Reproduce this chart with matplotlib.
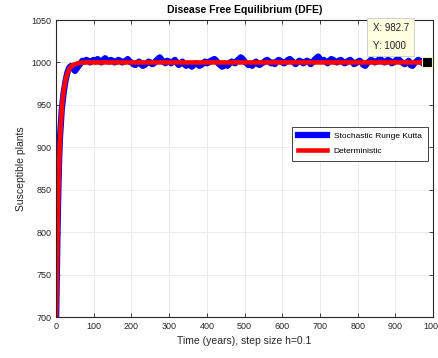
import matplotlib
matplotlib.use('Agg')
import matplotlib.pyplot as plt

plt.rcParams['font.family'] = ['Liberation Sans', 'DejaVu Sans']

# deterministic solution
t_det = [0, 2, 4, 6, 8, 10, 13, 16, 20, 25, 30, 35, 40, 45, 50, 60, 70, 80, 100, 1000]
S_det = [690, 745, 800, 845, 880, 905, 930, 950, 966, 979, 987, 992, 995, 997, 998,
         999.3, 999.8, 1000, 1000, 1000]

# stochastic Runge Kutta path
t_sto = [0, 2, 4, 6, 8, 10, 15, 20, 25, 30, 35, 40, 45, 50] + list(range(55, 1001, 5))
S_sto = [692, 748, 803, 848, 884, 908, 944, 964, 978, 988, 994, 996, 993, 990,
         993, 996, 999, 1002, 1001, 1003, 1002, 1000, 1002, 1003,
         1001, 1004, 1002, 1000, 1003, 1005, 1002, 1001, 1003, 1002,
         1000, 1001, 1003, 1002, 1000, 1001, 1002, 1004, 1001, 1000,
         998, 997, 999, 1001, 998, 996, 997, 999, 1001, 1000,
         998, 999, 1002, 1004, 1006, 1003, 1001, 999, 1002, 1001,
         999, 1001, 1003, 1000, 997, 999, 1001, 998, 996, 998,
         997, 995, 997, 999, 998, 996, 997, 999, 1001, 999,
         1000, 1002, 1003, 1004, 1002, 999, 997, 995, 996, 998,
         996, 999, 1001, 1000, 999, 1002, 1004, 1006, 1004, 1001,
         999, 997, 998, 996, 999, 1001, 998, 997, 999, 1000,
         1002, 1003, 1001, 999, 1000, 998, 1001, 1003, 1002, 1000,
         999, 1001, 1003, 1004, 1002, 1000, 998, 1000, 1002, 1001,
         999, 1000, 1002, 1001, 998, 1000, 1003, 1005, 1007, 1004,
         1002, 1003, 1001, 999, 1002, 1004, 1003, 1001, 1000, 1002,
         1003, 1001, 999, 1000, 1002, 1003, 1001, 998, 999, 1001,
         1002, 1000, 997, 996, 999, 1001, 1003, 1002, 1000, 1001,
         1003, 1004, 1002, 1000, 1001, 1003, 1002, 999, 1000, 1002,
         1004, 1003, 1001, 999, 998, 1000, 1002, 997, 996, 999,
         1001, 1003, 1002, 1000, 998, 1001, 999, 998, 1000, 1001]

tip_x, tip_y = 982.7, 1000

fig = plt.figure(figsize=(4.38, 3.58), dpi=100)
ax = fig.add_axes([0.128, 0.1145, 0.861, 0.8296])

ax.plot(t_sto, S_sto, color='#0000ff', lw=4.5, label='Stochastic Runge Kutta')
ax.plot(t_det, S_det, color='#ff0000', lw=3.3, label='Deterministic')
ax.plot([tip_x], [tip_y], 's', color='black', markersize=6.5,
        markeredgecolor='#f0f0c0', markeredgewidth=0.8, zorder=5)

ax.text(840, 1046, 'X: 982.7\nY: 1000', fontsize=7, va='top', ha='left',
        linespacing=1.9, color='#202020',
        bbox=dict(boxstyle='square,pad=0.55', facecolor='#ffffe1', edgecolor='#c8c8c8', lw=0.6),
        zorder=6)

ax.set_xlim(0, 1000)
ax.set_ylim(700, 1050)
ax.set_xticks(range(0, 1001, 100))
ax.set_yticks(range(700, 1051, 50))
ax.grid(True, color='#ebebeb', lw=0.7)
ax.set_axisbelow(True)
ax.tick_params(direction='in', top=True, right=True, labelsize=6.5,
               colors='#262626', length=3, width=0.6)
for sp in ax.spines.values():
    sp.set_color('#262626')
    sp.set_linewidth(0.8)

ax.set_xlabel('Time (years), step size h=0.1', fontsize=7.5, color='#262626')
ax.set_ylabel('Susceptible plants', fontsize=7.5, color='#262626')
ax.set_title('Disease Free Equilibrium (DFE)', fontsize=7.5, fontweight='bold', pad=5)

leg = ax.legend(loc='upper left', bbox_to_anchor=(0.615, 0.655), fontsize=6,
                fancybox=False, framealpha=1, edgecolor='#262626',
                handlelength=3.5, borderpad=0.7, labelspacing=0.8)
leg.get_frame().set_linewidth(0.6)

plt.savefig('out.png', dpi=100)
